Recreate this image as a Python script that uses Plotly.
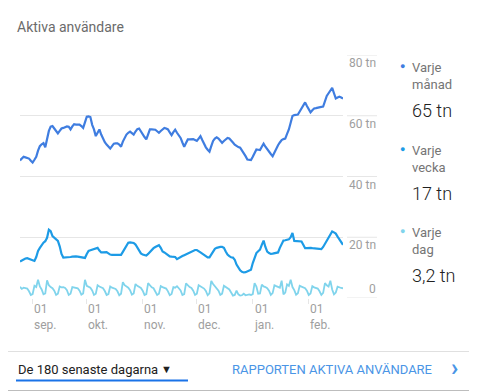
import plotly.graph_objects as go
import pandas as pd

# ---------------- data ----------------
start_date = "2019-08-25"
n_days = 180
dates = pd.date_range(start_date, periods=n_days, freq="D")

monthly = [
    45.3, 46.0, 46.5, 46.3, 46.0, 45.9, 45.2, 44.6, 45.5, 46.5,
    48.5, 50.0, 50.6, 51.0, 49.6, 52.5, 55.0, 56.4, 56.6, 55.8,
    55.0, 54.2, 55.0, 55.8, 56.0, 56.3, 56.5, 56.4, 55.5, 56.5,
    57.2, 57.1, 57.0, 57.1, 56.6, 56.0, 57.8, 59.7, 59.8, 59.6,
    57.0, 55.5, 53.3, 54.5, 55.5, 53.8, 52.2, 51.3, 50.5, 49.8,
    49.2, 50.0, 50.8, 50.9, 50.9, 50.5, 49.8, 51.5, 52.8, 53.8,
    54.4, 54.8, 54.3, 53.8, 54.8, 55.6, 55.8, 54.8, 53.7, 53.0,
    52.2, 53.8, 55.5, 55.5, 55.4, 55.4, 54.9, 54.4, 55.0, 55.6,
    56.0, 55.8, 55.5, 54.5, 53.6, 54.6, 55.4, 54.4, 53.5, 52.7,
    51.2, 49.8, 51.0, 52.2, 52.2, 52.3, 52.3, 52.0, 51.7, 52.5,
    53.3, 52.0, 50.6, 49.6, 48.8, 48.2, 50.0, 51.7, 52.5, 52.9,
    52.5, 51.8, 51.1, 51.7, 52.3, 52.7, 52.5, 52.0, 51.2, 50.5,
    50.0, 49.7, 49.5, 48.7, 47.8, 46.7, 45.6, 45.5, 45.4, 46.5,
    47.8, 48.9, 48.8, 48.7, 49.8, 50.8, 49.8, 48.9, 48.2, 47.4,
    46.7, 48.0, 49.5, 50.3, 51.2, 52.0, 52.3, 52.5, 54.0, 55.5,
    57.7, 59.9, 60.2, 60.3, 60.4, 61.4, 62.4, 63.4, 64.4, 63.2,
    62.0, 61.1, 61.8, 62.4, 62.5, 62.7, 62.8, 62.9, 63.0, 64.8,
    66.5, 67.4, 68.3, 69.2, 67.4, 65.7, 66.0, 66.3, 66.0, 65.7,
]

weekly = [
    12.0, 12.4, 12.8, 13.0, 13.1, 12.9, 12.6, 12.4, 12.2, 13.5,
    15.5, 16.5, 17.5, 18.2, 18.7, 19.8, 22.5, 22.0, 20.4, 19.8,
    19.3, 18.8, 17.0, 14.5, 13.3, 13.3, 13.4, 13.5, 13.5, 13.6,
    13.7, 13.7, 13.6, 13.5, 13.4, 13.3, 13.2, 14.5, 15.5, 15.7,
    15.9, 16.1, 16.2, 16.5, 15.6, 15.0, 15.0, 15.1, 15.1, 14.7,
    14.3, 14.2, 14.2, 14.2, 14.2, 14.2, 14.2, 15.2, 16.3, 17.4,
    18.2, 18.3, 18.3, 18.1, 17.6, 16.6, 15.5, 14.7, 14.3, 14.1,
    14.0, 14.5, 15.2, 15.9, 16.4, 16.8, 17.2, 17.4, 16.5, 15.3,
    15.0, 14.5, 14.0, 13.7, 13.6, 13.5, 13.5, 12.8, 13.2, 13.6,
    13.8, 14.1, 14.4, 14.8, 15.1, 15.4, 15.6, 15.8, 15.8, 15.5,
    15.0, 14.6, 14.2, 13.8, 13.4, 13.4, 14.5, 15.5, 16.2, 16.5,
    16.7, 16.8, 16.8, 16.5, 15.3, 14.3, 13.8, 13.4, 13.3, 12.6,
    11.0, 9.8, 9.1, 8.6, 8.4, 8.5, 8.7, 8.9, 9.3, 11.5,
    13.5, 14.8, 15.4, 15.9, 17.5, 18.9, 16.8, 15.3, 14.8, 14.5,
    14.6, 14.7, 14.9, 15.0, 16.5, 18.0, 18.9, 19.0, 19.1, 19.3,
    20.0, 21.4, 18.8, 18.7, 18.7, 18.6, 18.6, 17.5, 16.4, 16.4,
    16.5, 16.5, 16.4, 16.3, 16.3, 16.2, 16.2, 16.1, 16.8, 17.8,
    18.8, 19.8, 21.0, 21.9, 21.6, 21.2, 20.2, 19.2, 18.3, 17.5,
]

daily = [
    3.7, 3.0, 3.4, 3.3, 3.1, 2.2, 1.0,
    1.3, 4.0, 3.6, 6.0, 3.8, 2.8, 1.2,
    1.5, 5.8, 4.2, 3.6, 3.2, 2.4, 1.0,
    1.4, 3.8, 3.5, 3.6, 3.3, 2.6, 1.0,
    1.4, 3.6, 3.4, 3.3, 3.2, 2.4, 1.1,
    1.5, 6.0, 4.0, 3.7, 3.4, 2.5, 1.0,
    1.4, 4.2, 3.8, 3.5, 3.2, 2.3, 1.0,
    1.3, 3.8, 3.4, 3.3, 3.0, 2.2, 0.9,
    1.4, 5.2, 4.2, 3.8, 3.4, 2.6, 1.1,
    1.5, 4.6, 4.0, 3.6, 3.3, 2.4, 1.0,
    1.3, 4.9, 4.2, 3.5, 3.2, 2.3, 1.0,
    1.4, 3.9, 3.6, 3.3, 3.1, 2.2, 0.9,
    1.3, 3.6, 3.4, 3.9, 3.2, 2.5, 1.0,
    1.3, 4.8, 4.0, 3.6, 3.3, 2.4, 1.0,
    1.4, 4.2, 3.8, 3.4, 3.1, 2.3, 0.9,
    1.5, 5.6, 4.6, 3.9, 3.4, 2.4, 1.0,
    1.4, 4.0, 3.6, 3.2, 2.8, 1.8, 0.8,
    1.0, 2.4, 1.2, 0.8, 0.9, 1.4, 0.9,
    1.0, 1.2, 1.0, 1.3, 4.9, 3.8, 1.4,
    1.5, 4.4, 3.8, 3.6, 3.2, 2.4, 1.0,
    1.6, 4.2, 3.9, 3.6, 3.4, 5.7, 1.2,
    1.8, 4.5, 4.0, 6.0, 3.6, 2.6, 1.1,
    1.6, 4.0, 3.7, 3.5, 3.2, 2.4, 1.0,
    1.5, 3.9, 3.5, 3.4, 3.1, 2.2, 1.0,
    1.7, 4.9, 4.2, 3.8, 5.7, 2.8, 1.2,
    1.8, 3.7, 3.4, 3.3, 3.2,
]

series_names = ["Varje\nmånad", "Varje\nvecka", "Varje\ndag"]
series_totals = ["65 tn", "17 tn", "3,2 tn"]
series_colors = ["#3f7de0", "#1d9be6", "#80d4ec"]

y_ticks = [0, 20, 40, 60, 80]
y_tick_labels = ["0", "20 tn", "40 tn", "60 tn", "80 tn"]

month_ticks = ["2019-09-01", "2019-10-01", "2019-11-01", "2019-12-01", "2020-01-01", "2020-02-01"]
month_labels = ["sep.", "okt.", "nov.", "dec.", "jan.", "feb."]

title_text = "Aktiva användare"
range_text = "De 180 senaste dagarna"
report_text = "RAPPORTEN AKTIVA ANVÄNDARE"

# ---------------- layout geometry ----------------
# The page body adds an 8px margin; all screen coordinates below are
# converted to figure coordinates by subtracting OFF.
OFF = 8
W, H = 477 - OFF, 392 - OFF
SL, SR = 20, 343          # plot area left / right (screen px)
ST, SB = 55, 298          # plot area top / bottom (screen px)
L, R, T, B = SL - OFF, SR - OFF, ST - OFF, SB - OFF
PW, PH = R - L, B - T


def px(x):
    return (x - OFF - L) / PW


def py(y):
    return (B - (y - OFF)) / PH


FONT = "Roboto, Arial, sans-serif"
GRID = "#e6e6e6"

fig = go.Figure()
for vals, color, w in [(daily, series_colors[2], 1.8), (weekly, series_colors[1], 2.2), (monthly, series_colors[0], 2.2)]:
    fig.add_trace(go.Scatter(x=dates, y=vals, mode="lines",
                             line=dict(color=color, width=w, shape="linear"),
                             hoverinfo="skip", showlegend=False))

shapes = []
annotations = []

# extra gridline segments under the y labels
for v in y_ticks:
    shapes.append(dict(type="line", xref="paper", yref="y", x0=px(347), x1=px(377),
                       y0=v, y1=v, line=dict(color=GRID, width=1), layer="below"))
# y tick labels
for v, lab in zip(y_ticks, y_tick_labels):
    annotations.append(dict(xref="paper", yref="y", x=px(378), y=v, text=lab,
                            xanchor="right", yanchor="middle", showarrow=False,
                            yshift=(9 if v == 0 else -8),
                            font=dict(family=FONT, size=12, color="#9e9e9e")))
# x tick labels (left aligned)
for d, lab in zip(month_ticks, month_labels):
    annotations.append(dict(xref="x", yref="paper", x=d, y=py(300), text="01<br>" + lab,
                            xanchor="left", yanchor="top", align="left", showarrow=False,
                            xshift=-1,
                            font=dict(family=FONT, size=12, color="#9e9e9e")))

# title
annotations.append(dict(xref="paper", yref="paper", x=px(15), y=py(27), text=title_text,
                        xanchor="left", yanchor="middle", showarrow=False,
                        font=dict(family=FONT, size=14, color="#6b6b6b")))

# legend
leg_y = [66, 149, 231]
for (name, total, color, yy) in zip(series_names, series_totals, series_colors, leg_y):
    annotations.append(dict(xref="paper", yref="paper", x=px(402), y=py(yy), text="●",
                            xanchor="center", yanchor="middle", showarrow=False,
                            font=dict(family=FONT, size=9, color=color)))
    annotations.append(dict(xref="paper", yref="paper", x=px(410), y=py(yy - 8),
                            text=name.replace("\n", "<br>"), align="left",
                            xanchor="left", yanchor="top", showarrow=False,
                            font=dict(family=FONT, size=13, color="#757575")))
    annotations.append(dict(xref="paper", yref="paper", x=px(410), y=py(yy + 44), text=total,
                            xanchor="left", yanchor="middle", showarrow=False,
                            font=dict(family=FONT, size=18, color="#212121", weight=300)))

# footer
shapes.append(dict(type="line", xref="paper", yref="paper", x0=px(0), x1=px(477),
                   y0=py(351.5), y1=py(351.5), line=dict(color="#e0e0e0", width=1)))
shapes.append(dict(type="line", xref="paper", yref="paper", x0=px(0), x1=px(477),
                   y0=py(390.5), y1=py(390.5), line=dict(color="#bdbdbd", width=1)))
shapes.append(dict(type="line", xref="paper", yref="paper", x0=px(16), x1=px(188),
                   y0=py(380.5), y1=py(380.5), line=dict(color="#1a73e8", width=2)))
annotations.append(dict(xref="paper", yref="paper", x=px(16), y=py(369), text=range_text,
                        xanchor="left", yanchor="middle", showarrow=False,
                        font=dict(family=FONT, size=13, color="#212121")))
annotations.append(dict(xref="paper", yref="paper", x=px(166), y=py(369), text="▼",
                        xanchor="center", yanchor="middle", showarrow=False,
                        font=dict(family=FONT, size=11, color="#212121")))
annotations.append(dict(xref="paper", yref="paper", x=px(230), y=py(369), text=report_text,
                        xanchor="left", yanchor="middle", showarrow=False,
                        font=dict(family=FONT, size=13, color="#4a95e6")))
annotations.append(dict(xref="paper", yref="paper", x=px(454), y=py(368), text="<b>›</b>",
                        xanchor="center", yanchor="middle", showarrow=False,
                        font=dict(family=FONT, size=24, color="#4a95e6")))

fig.update_layout(
    width=W, height=H,
    margin=dict(l=L, r=W - R, t=T, b=H - B, pad=0),
    paper_bgcolor="white", plot_bgcolor="white",
    showlegend=False,
    shapes=shapes, annotations=annotations,
    xaxis=dict(type="date", range=[dates[0], dates[-1]], showgrid=False,
               zeroline=False, showline=False, tickvals=month_ticks,
               ticks="outside", ticklen=5, tickcolor=GRID, tickwidth=1,
               showticklabels=False, fixedrange=True),
    yaxis=dict(range=[0, 80], tickvals=y_ticks, showgrid=True, gridcolor=GRID,
               gridwidth=1, zeroline=False, showline=False, showticklabels=False,
               ticks="", fixedrange=True),
)

fig.write_html("out.html", config={"displayModeBar": False})
